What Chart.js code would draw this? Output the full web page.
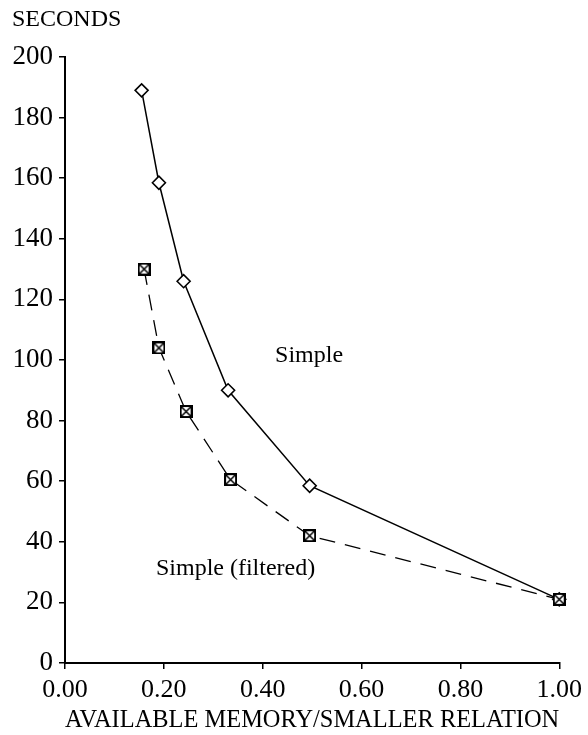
<!DOCTYPE html>
<html>
<head>
<meta charset="utf-8">
<title>Seconds vs available memory</title>
<script src="https://cdn.jsdelivr.net/npm/chart.js@4/dist/chart.umd.min.js"></script>
<style>
  html, body { margin: 0; padding: 0; background: #fff; }
</style>
</head>
<body>
<canvas id="chart" width="588" height="735"></canvas>
<script>
// memory ratio (x) and elapsed seconds (y) for the two join runs
const simpleX = [0.155, 0.19, 0.24, 0.33, 0.495, 1.0];
const simpleY = [189, 158.5, 126, 90, 58.5, 21];
const filteredX = [0.16, 0.19, 0.245, 0.335, 0.495, 1.0];
const filteredY = [130, 104, 83, 60.5, 42, 21];

const xTicks = [0, 0.2, 0.4, 0.6, 0.8, 1.0];
const yTicks = [0, 20, 40, 60, 80, 100, 120, 140, 160, 180, 200];

const serif = '"Liberation Serif", "DejaVu Serif", serif';

function toPoints(xs, ys) {
    return xs.map((x, i) => ({ x, y: ys[i] }));
}

// square with an X through it
function boxedCross(size) {
    const c = document.createElement('canvas');
    c.width = size;
    c.height = size;
    const g = c.getContext('2d');
    g.fillStyle = '#fff';
    g.fillRect(0, 0, size, size);
    g.strokeStyle = '#000';
    g.lineWidth = 2;
    g.strokeRect(1, 1, size - 2, size - 2);
    g.lineWidth = 1.5;
    g.beginPath();
    g.moveTo(2, 2); g.lineTo(size - 2, size - 2);
    g.moveTo(size - 2, 2); g.lineTo(2, size - 2);
    g.stroke();
    return c;
}

const textPlugin = {
    id: 'textLabels',
    afterDraw(chart) {
        const { ctx, scales: { x, y } } = chart;
        ctx.save();
        ctx.fillStyle = '#000';
        ctx.font = '24px ' + serif;
        ctx.textBaseline = 'middle';
        ctx.textAlign = 'left';
        ctx.fillText('SECONDS', 12, 20);
        ctx.fillText('Simple', x.getPixelForValue(0.425), y.getPixelForValue(101.5));
        ctx.fillText('Simple (filtered)', x.getPixelForValue(0.184), y.getPixelForValue(31));
        ctx.restore();
    }
};

const ctx = document.getElementById('chart').getContext('2d');
new Chart(ctx, {
    type: 'scatter',
    data: {
        datasets: [{
            label: 'Simple',
            data: toPoints(simpleX, simpleY),
            order: 1,
            showLine: true,
            clip: false,
            borderColor: '#000',
            borderWidth: 1.5,
            pointStyle: 'rectRot',
            pointRadius: 6.5,
            pointBorderWidth: 1.6,
            pointBackgroundColor: '#fff',
            pointBorderColor: '#000'
        }, {
            label: 'Simple (filtered)',
            data: toPoints(filteredX, filteredY),
            order: 0,
            showLine: true,
            clip: false,
            borderColor: '#000',
            borderWidth: 1.3,
            borderDash: [16, 10],
            pointStyle: boxedCross(13),
            pointRadius: 7
        }]
    },
    options: {
        responsive: false,
        animation: false,
        layout: { padding: { top: 57, right: 26, left: 0, bottom: 0 } },
        plugins: {
            legend: { display: false },
            tooltip: { enabled: false }
        },
        scales: {
            x: {
                type: 'linear',
                min: 0,
                max: 1,
                afterBuildTicks: s => { s.ticks = xTicks.map(v => ({ value: v })); },
                afterFit: s => { s.height = 72; },
                border: { color: '#000', width: 2 },
                grid: { drawOnChartArea: false, color: '#000', tickLength: 6, lineWidth: 1.5 },
                ticks: {
                    color: '#000',
                    padding: 6,
                    maxRotation: 0,
                    font: { family: serif, size: 26 },
                    callback: v => v.toFixed(2)
                },
                title: {
                    display: true,
                    text: 'AVAILABLE MEMORY/SMALLER RELATION',
                    color: '#000',
                    padding: 0,
                    font: { family: serif, size: 25 }
                }
            },
            y: {
                min: 0,
                max: 200,
                afterBuildTicks: s => { s.ticks = yTicks.map(v => ({ value: v })); },
                afterFit: s => { s.width = 65; },
                border: { color: '#000', width: 2 },
                grid: { drawOnChartArea: false, color: '#000', tickLength: 6, lineWidth: 1.5 },
                ticks: {
                    color: '#000',
                    padding: 6,
                    font: { family: serif, size: 27 }
                }
            }
        }
    },
    plugins: [textPlugin]
});
</script>
</body>
</html>
